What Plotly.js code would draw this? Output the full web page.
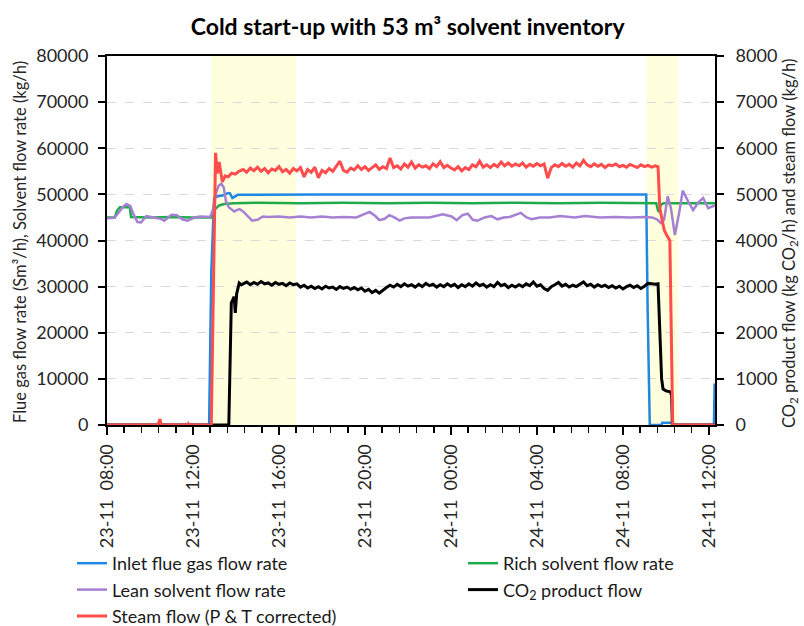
<!DOCTYPE html>
<html><head><meta charset="utf-8">
<script src="https://cdn.plot.ly/plotly-3.0.1.min.js"></script>
<style>html,body{margin:0;padding:0;background:#fff}#chart{width:804px;height:626px}</style>
</head><body><div id="chart"></div>
<script>
// ---------- DATA (times are "day HH:MM" in November) ----------
const inletTimes = ['23 08:00','23 12:45','23 12:51','23 12:59','23 13:10','23 13:25','23 13:38','23 13:43','23 13:50','23 13:55','23 14:05','23 18:00','23 22:00','24 02:00','24 06:00','24 09:05','24 09:09','24 09:15','24 09:47','24 09:50','24 10:20','24 10:23','24 12:14','24 12:16'];
const inletValues = [0,0,33000,49200,49600,49800,50300,50200,49200,49400,49900,49950,50000,49950,50000,50000,25000,0,0,500,500,0,0,9000];

const richTimes = ['23 08:00','23 08:22','23 08:28','23 08:36','23 09:04','23 09:07','23 10:00','23 11:00','23 12:00','23 12:53','23 13:02','23 13:13','23 13:27','23 13:55','23 15:00','23 17:00','23 19:00','23 21:00','23 23:00','24 01:00','24 03:00','24 05:00','24 07:00','24 09:00','24 09:33','24 09:38','24 09:41','24 09:46','24 09:54','24 11:00','24 12:17'];
const richValues = [45000,45000,46500,47200,47200,45100,45000,45100,45000,45000,46800,47600,47900,48100,48200,48100,48200,48100,48200,48100,48200,48100,48200,48100,48100,46500,46300,47800,48100,48100,48100];

const leanTimes = ['23 08:00','23 08:20','23 08:30','23 08:45','23 08:54','23 09:05','23 09:15','23 09:25','23 09:35','23 09:50','23 10:10','23 10:30','23 10:40','23 11:00','23 11:15','23 11:30','23 11:45','23 12:05','23 12:20','23 12:48','23 12:55','23 13:05','23 13:12','23 13:19','23 13:26','23 13:32','23 13:40','23 13:48','23 13:55','23 14:02','23 14:10','23 14:20','23 14:35','23 14:45','23 15:00','23 15:15','23 15:30','23 16:00','23 16:30','23 17:00','23 17:30','23 18:00','23 18:30','23 19:00','23 19:36','23 19:53','23 20:13','23 20:29','23 20:40','23 20:55','23 21:08','23 21:22','23 21:37','23 21:50','23 22:10','23 23:00','23 23:37','24 00:02','24 00:16','24 00:32','24 00:47','24 01:01','24 01:14','24 01:34','24 01:53','24 02:10','24 02:27','24 02:44','24 02:58','24 03:15','24 03:31','24 03:45','24 04:08','24 04:36','24 05:04','24 05:46','24 06:14','24 06:56','24 07:38','24 08:19','24 09:01','24 09:21','24 09:35','24 09:46','24 09:55','24 10:05','24 10:14','24 10:25','24 10:37','24 10:47','24 11:02','24 11:16','24 11:30','24 11:44','24 11:58','24 12:09','24 12:17'];
const leanValues = [44800,44900,45800,47300,47900,47500,45500,44000,43900,45300,45000,44700,44300,45600,45500,44600,44300,45000,45200,45100,46500,50500,51900,52300,51500,48500,47200,46700,46300,46600,46800,46300,45200,44300,44500,45200,45100,45200,45000,45200,45000,45200,45000,45100,45000,45500,46200,45300,44400,44700,45500,45000,44300,44800,45000,45000,45700,45200,44400,45500,45800,44500,44300,45000,45300,44600,45000,45100,45500,46000,45000,44600,45000,45000,45300,45000,45300,45000,45100,45000,45100,45000,44600,43800,44500,49600,47000,41200,46000,50800,48500,46600,48200,49200,47000,47300,47600];

// plateau sampling times shared by steam and CO2 readings
const plateauTimes23 = ['14:20','14:30','14:40','14:50','15:00','15:10','15:20','15:30','15:40','15:50','16:00','16:10','16:20','16:30','16:40','16:50','17:00','17:10','17:20','17:30','17:40','17:50','18:00','18:10','18:20','18:30','18:40','18:50','19:00','19:10','19:20','19:30','19:40','19:50','20:00','20:10','20:20','20:30','20:40','20:50','21:00','21:10','21:20','21:30','21:40','21:50','22:00','22:10','22:20','22:30','22:40','22:50','23:00','23:10','23:20','23:30','23:40','23:50'];
const plateauTimes24 = ['00:00','00:10','00:20','00:30','00:40','00:50','01:00','01:10','01:20','01:30','01:40','01:50','02:00','02:10','02:20','02:30','02:40','02:50','03:00','03:10','03:20','03:30','03:40','03:50','04:00','04:10','04:20','04:30','04:40','04:50','05:00','05:10','05:20','05:30','05:40','05:50','06:00','06:10','06:20','06:30','06:40','06:50','07:00','07:10','07:20','07:30','07:40','07:50','08:00','08:10','08:20','08:30','08:40','08:50','09:00','09:10','09:20','09:30'];

const steamStartTimes = ['23 08:00','23 10:20','23 10:25','23 10:28','23 10:31','23 11:05','23 11:07','23 11:09','23 11:45','23 11:47','23 11:49','23 12:51','23 13:03','23 13:08','23 13:13','23 13:17','23 13:22','23 13:30','23 13:38','23 13:48','23 13:58','23 14:08'];
const steamStartValues = [0,0,60,130,0,0,30,0,0,25,0,0,5900,5450,5700,5500,5270,5400,5380,5460,5440,5500];
const steamPlateau23 = [5540,5480,5570,5510,5590,5500,5560,5470,5550,5520,5600,5490,5540,5460,5560,5510,5580,5380,5540,5480,5590,5360,5520,5470,5560,5500,5610,5720,5520,5480,5570,5530,5620,5540,5600,5520,5580,5640,5540,5600,5560,5790,5580,5620,5550,5660,5590,5700,5570,5640,5590,5620,5560,5660,5600,5710,5580,5630];
const steamPlateau24 = [5570,5530,5600,5510,5580,5540,5640,5600,5720,5590,5640,5580,5650,5600,5700,5620,5680,5610,5660,5620,5680,5590,5650,5610,5670,5620,5660,5350,5580,5640,5600,5670,5610,5650,5590,5680,5620,5740,5640,5600,5660,5610,5650,5580,5640,5620,5660,5600,5630,5590,5650,5620,5580,5640,5600,5630,5590,5620];
const steamEndTimes = ['24 09:38','24 09:43','24 09:50','24 09:55','24 10:03','24 10:11','24 10:19','24 12:17'];
const steamEndValues = [5600,4700,4450,4230,4100,4000,0,0];

const co2StartTimes = ['23 08:00','23 13:40','23 13:47','23 13:55','23 13:58','23 14:02','23 14:09','23 14:15'];
const co2StartValues = [0,0,2650,2780,2430,2850,3080,3040];
const co2Plateau23 = [3060,3100,3040,3090,3050,3110,3060,3080,3030,3090,3050,3070,3020,3080,3040,3060,2990,3030,2970,3010,2960,3000,2950,3010,2970,2990,2940,3000,2960,2990,2940,2980,2930,2970,2900,2940,2870,2920,2860,2930,2980,3030,2990,3050,3000,3060,3010,3040,2990,3050,3000,3070,3020,3050,2990,3040,3000,3060];
const co2Plateau24 = [3010,3050,2980,3040,3000,3060,3010,3080,3020,3050,2990,3040,3000,3090,3020,3050,2980,3030,2990,3040,3000,3060,3020,3100,3010,3040,2960,2920,3000,3040,3090,3010,3050,2990,3030,3000,3060,3100,3020,3050,2990,3040,3000,3030,2980,3020,2970,3010,2950,3000,3030,2980,3020,2960,3010,3070,3060,3050];
const co2EndTimes = ['24 09:38','24 09:41','24 09:44','24 09:48','24 09:52','24 10:00','24 10:12','24 10:16','24 10:18','24 12:17'];
const co2EndValues = [3060,2400,1500,1000,780,740,720,650,0,0];

const highlightStart = ['23 12:51','24 09:06'];
const highlightEnd = ['23 16:48','24 10:34'];

const xTickVals = ['23 08:00','23 12:00','23 16:00','23 20:00','24 00:00','24 04:00','24 08:00','24 12:00'];
const xTickText = ['23-11\u00a0\u00a008:00','23-11\u00a0\u00a012:00','23-11\u00a0\u00a016:00','23-11\u00a0\u00a020:00','24-11\u00a0\u00a000:00','24-11\u00a0\u00a004:00','24-11\u00a0\u00a008:00','24-11\u00a0\u00a012:00'];
const xRange = ['23 08:00','24 12:17'];

const seriesNames = ['Inlet flue gas flow rate','Rich solvent flow rate','Lean solvent flow rate','CO<sub>2</sub> product flow','Steam flow (P &amp; T corrected)'];
const seriesColors = ['#1F88E5','#1FAA4B','#A680D2','#000000','#FF4C4C'];
const seriesWidths = [2.5,2.5,2.5,3,3];
const seriesLegend = ['legend','legend2','legend','legend2','legend'];

const leftAxisTitle = 'Flue gas flow rate (Sm³/h), Solvent flow rate (kg/h)';
const rightAxisTitle = 'CO<sub>2</sub> product flow (kg CO<sub>2</sub>/h) and steam flow (kg/h)';

// ---------- helpers ----------
function ts(s){ const p = s.split(' '); return '2023-11-' + p[0] + ' ' + p[1]; }
const T = arr => arr.map(ts);

const steamX = T(steamStartTimes).concat(plateauTimes23.map(t => ts('23 ' + t)), plateauTimes24.map(t => ts('24 ' + t)), T(steamEndTimes));
const steamY = steamStartValues.concat(steamPlateau23, steamPlateau24, steamEndValues);
const co2X = T(co2StartTimes).concat(plateauTimes23.map(t => ts('23 ' + t)), plateauTimes24.map(t => ts('24 ' + t)), T(co2EndTimes));
const co2Y = co2StartValues.concat(co2Plateau23, co2Plateau24, co2EndValues);

const FONT = 'Lato, "Open Sans", "DejaVu Sans", sans-serif';
const TXT = '#262626';

function line(x, y, i, yaxis){
  return {x, y, type:'scatter', mode:'lines', name:seriesNames[i], yaxis, legend:seriesLegend[i],
    line:{color:seriesColors[i], width:seriesWidths[i]}, hoverinfo:'skip'};
}
const traces = [
  line(T(inletTimes), inletValues, 0, 'y'),
  line(T(richTimes), richValues, 1, 'y'),
  line(T(leanTimes), leanValues, 2, 'y'),
  line(co2X, co2Y, 3, 'y2'),
  line(steamX, steamY, 4, 'y2')
];

const shapes = highlightStart.map((s, i) => ({
  type:'rect', xref:'x', yref:'paper', x0:ts(s), x1:ts(highlightEnd[i]), y0:0, y1:1,
  fillcolor:'rgb(255,255,222)', line:{width:0}, layer:'below'
}));

const legendCommon = {orientation:'v', xref:'container', yref:'container', xanchor:'left', yanchor:'top',
  font:{family:FONT, size:18, color:'#1a1a1a'}, itemwidth:30, bgcolor:'rgba(0,0,0,0)', traceorder:'normal', tracegroupgap:0};

// plot area: left 107 px, width 608 px, bottom 425 px, height 369 px
const annotations = [
  {text:leftAxisTitle, xref:'paper', yref:'paper', x:(20-107)/608, y:(425-242)/369, xanchor:'center', yanchor:'middle',
   textangle:-90, showarrow:false, font:{family:FONT, size:16.5, color:TXT}},
  {text:rightAxisTitle, xref:'paper', yref:'paper', x:(789-107)/608, y:(425-244)/369, xanchor:'center', yanchor:'middle',
   textangle:-90, showarrow:false, font:{family:FONT, size:16.5, color:TXT}}
];

const layout = {
  width:804, height:626,
  margin:{l:107, r:89, t:56, b:201, autoexpand:false},
  paper_bgcolor:'#fff', plot_bgcolor:'rgba(0,0,0,0)',
  font:{family:FONT, color:TXT},
  title:{text:'<b>Cold start-up with 53 m³ solvent inventory</b>', font:{family:FONT, size:23, color:'#000'},
    x:0.507, xanchor:'center', xref:'container', y:1-27/626, yanchor:'middle', yref:'container'},
  showlegend:true,
  legend:Object.assign({}, legendCommon, {x:72/804, y:1-545/626}),
  legend2:Object.assign({}, legendCommon, {x:463/804, y:1-545/626}),
  xaxis:{type:'date', range:T(xRange), tickmode:'array', tickvals:T(xTickVals), ticktext:xTickText,
    tickangle:-90, tickfont:{family:FONT, size:18, color:TXT}, ticks:'outside', ticklen:8, tickwidth:2, tickcolor:'#000',
    ticklabelstandoff:2,
    minor:{tickmode:'linear', tick0:ts('23 08:00'), dtick:48*60*1000, ticks:'outside', ticklen:6, tickwidth:1.5, tickcolor:'#000', showgrid:false},
    showline:true, linecolor:'#000', linewidth:2, mirror:true, showgrid:false, zeroline:false, fixedrange:true},
  xaxis2:{type:'date', overlaying:'x', anchor:'y', side:'bottom', range:T(xRange), tickmode:'array', tickvals:T(xTickVals),
    ticks:'inside', ticklen:5, tickwidth:2, tickcolor:'#000', showticklabels:false, showline:false, showgrid:false, zeroline:false},
  yaxis:{range:[0,80000], dtick:10000, tick0:0, tickformat:'d', tickfont:{family:FONT, size:18, color:TXT},
    ticks:'outside', ticklen:7, tickwidth:2, tickcolor:'#000', ticklabelstandoff:6,
    showline:true, linecolor:'#000', linewidth:2, showgrid:true, gridcolor:'#D9D9D9', griddash:'dash', gridwidth:1, zeroline:false},
  yaxis2:{range:[0,8000], dtick:1000, tick0:0, tickformat:'d', overlaying:'y', side:'right', anchor:'x',
    tickfont:{family:FONT, size:18, color:TXT}, ticks:'outside', ticklen:7, tickwidth:2, tickcolor:'#000', ticklabelstandoff:8,
    showline:true, linecolor:'#000', linewidth:2, showgrid:false, zeroline:false},
  shapes, annotations
};

Plotly.newPlot('chart', traces, layout, {staticPlot:true, displayModeBar:false});
</script>
</body></html>
